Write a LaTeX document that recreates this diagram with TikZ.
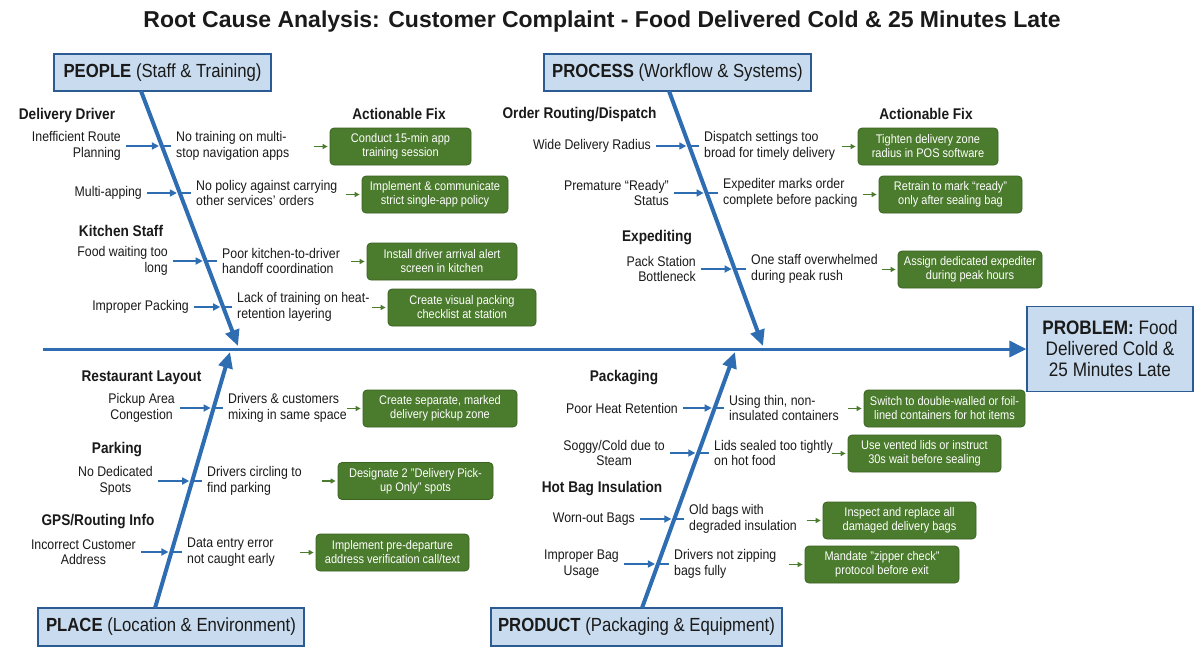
\documentclass[tikz,border=0pt]{standalone}
\usepackage{fontspec}
\setmainfont{Liberation Sans}[FakeStretch=0.88]
\newfontfamily\titlefont{Liberation Sans}
\usetikzlibrary{arrows.meta,intersections}
\definecolor{boneblue}{HTML}{2F6DB3}
\definecolor{catfill}{HTML}{C9DCEF}
\definecolor{catline}{HTML}{2C5B94}
\definecolor{fixgreen}{HTML}{4B7B2D}
\definecolor{fixdark}{HTML}{3A6321}
\definecolor{ink}{HTML}{1A1A1A}
\begin{document}
\begin{tikzpicture}[x=1pt,y=-1pt,
  txt/.style={font=\fontsize{14}{15.5}\selectfont, inner sep=0pt, text=ink},
  rtxt/.style={txt, align=right, anchor=east},
  ctxt/.style={txt, align=center, anchor=east},
  ltxt/.style={txt, align=left, anchor=west},
  lbl/.style={font=\bfseries\fontsize{15.5}{17}\selectfont, inner sep=0pt, text=ink},
  fixbox/.style={fill=fixgreen, draw=fixdark, line width=0.8pt, rounded corners=4pt, text=white,
     font=\fontsize{12.5}{14}\selectfont, align=center, minimum height=37pt, inner sep=0pt},
  catbox/.style={fill=catfill, draw=catline, line width=1.2pt, minimum height=37pt, inner sep=0pt,
     font=\fontsize{19}{21}\selectfont, text=ink},
  bone/.style={draw=boneblue, line width=4pt, -{Triangle[length=16pt,width=14pt]}},
  spine/.style={draw=boneblue, line width=3pt, -{Triangle[length=17pt,width=16pt]}},
  cause/.style={draw=boneblue, line width=1.6pt, -{Triangle[length=7pt,width=7pt]}},
  tickline/.style={draw=boneblue, line width=1.6pt},
  fixarrow/.style={draw=fixgreen, line width=1.2pt, -{Triangle[length=5pt,width=5pt]}}
]
\useasboundingbox[fill=white] (0,0) rectangle (1200,654);

% Title
\node[font=\titlefont\bfseries\fontsize{23}{26}\selectfont, anchor=base, inner sep=0pt, text=ink] (title) at (602,27)
  {Root Cause Analysis: Customer Complaint - Food Delivered Cold \& 25 Minutes Late};

% Category boxes and problem
\node[catbox, minimum width=217pt] (people) at (162.5,72.5) {\textbf{PEOPLE} (Staff \& Training)};
\node[catbox, minimum width=267pt] (process) at (677.5,72.5) {\textbf{PROCESS} (Workflow \& Systems)};
\node[catbox, minimum width=266pt, minimum height=38pt] (place) at (171,627) {\textbf{PLACE} (Location \& Environment)};
\node[catbox, minimum width=291pt, minimum height=38pt] (product) at (636.5,627) {\textbf{PRODUCT} (Packaging \& Equipment)};
\node[catbox, minimum width=166pt, minimum height=85pt, align=center, font=\fontsize{19.5}{21}\selectfont] (problem) at (1110,349)
  {\textbf{PROBLEM:} Food\\Delivered Cold \&\\25 Minutes Late};

% Spine and bones
\coordinate (spineStart) at (43,349);
\draw[spine] (spineStart) -- (problem.west);
\coordinate (pT) at (141,91);  \coordinate (pE) at (238,346);
\coordinate (qT) at (669,91);  \coordinate (qE) at (763,346);
\coordinate (lT) at (155,608); \coordinate (lE) at (230,352);
\coordinate (dT) at (642,608); \coordinate (dE) at (735,352);
\path[name path=pTb] (pT) -- (pE);
\path[name path=qTb] (qT) -- (qE);
\path[name path=lTb] (lT) -- (lE);
\path[name path=dTb] (dT) -- (dE);

% ---------------- PEOPLE ----------------
\node[lbl] (lDriver) at (67,115) {Delivery Driver};
\node[lbl] (lFix1) at (399,114) {Actionable Fix};
\node[lbl] (lKitchen) at (121,231) {Kitchen Staff};

\node[rtxt] (a1) at (121,146) {Inefficient Route\\Planning};
\node[ltxt] (b1) at (176,146) {No training on multi-\\stop navigation apps};
\node[fixbox, minimum width=141pt] (f1) at (400.5,146.5) {Conduct 15-min app\\training session};

\node[rtxt] (a2) at (142,193) {Multi-apping};
\node[ltxt] (b2) at (196,193) {No policy against carrying\\other services' orders};
\node[fixbox, minimum width=146pt] (f2) at (435,194.5) {Implement \& communicate\\strict single-app policy};

\node[rtxt] (a3) at (168,261) {Food waiting too\\long};
\node[ltxt] (b3) at (222,261) {Poor kitchen-to-driver\\handoff coordination};
\node[fixbox, minimum width=150pt] (f3) at (442,261.5) {Install driver arrival alert\\screen in kitchen};

\node[rtxt] (a4) at (189,307) {Improper Packing};
\node[ltxt] (b4) at (237,307) {Lack of training on heat-\\retention layering};
\node[fixbox, minimum width=148pt] (f4) at (462,307.5) {Create visual packing\\checklist at station};

% ---------------- PROCESS ----------------
\node[lbl] (lRouting) at (579.5,115) {Order Routing/Dispatch};
\node[lbl] (lFix2) at (926,114) {Actionable Fix};
\node[lbl] (lExped) at (657,238) {Expediting};

\node[rtxt] (a5) at (651,146) {Wide Delivery Radius};
\node[ltxt] (b5) at (704,146) {Dispatch settings too\\broad for timely delivery};
\node[fixbox, minimum width=140pt] (f5) at (928,146.5) {Tighten delivery zone\\radius in POS software};

\node[rtxt] (a6) at (669,193) {Premature “Ready”\\Status};
\node[ltxt] (b6) at (723,193) {Expediter marks order\\complete before packing};
\node[fixbox, minimum width=143pt] (f6) at (950.5,194.5) {Retrain to mark “ready”\\only after sealing bag};

\node[rtxt] (a7) at (696,269) {Pack Station\\Bottleneck};
\node[ltxt] (b7) at (751,269) {One staff overwhelmed\\during peak rush};
\node[fixbox, minimum width=144pt] (f7) at (970,269.5) {Assign dedicated expediter\\during peak hours};

% ---------------- PLACE ----------------
\node[lbl] (lLayout) at (141.5,378) {Restaurant Layout};
\node[lbl] (lParking) at (117,450) {Parking};
\node[lbl] (lGps) at (98,522) {GPS/Routing Info};

\node[ctxt] (a8) at (175,408) {Pickup Area\\Congestion};
\node[ltxt] (b8) at (228,408) {Drivers \& customers\\mixing in same space};
\node[fixbox, minimum width=154pt] (f8) at (440,408.5) {Create separate, marked\\delivery pickup zone};

\node[ctxt] (a9) at (153,481) {No Dedicated\\Spots};
\node[ltxt] (b9) at (207,481) {Drivers circling to\\find parking};
\node[fixbox, minimum width=155pt] (f9) at (415.5,481) {Designate 2 "Delivery Pick-\\up Only" spots};

\node[ctxt] (a10) at (136,552) {Incorrect Customer\\Address};
\node[ltxt] (b10) at (187,552) {Data entry error\\not caught early};
\node[fixbox, minimum width=153pt] (f10) at (392.5,552.5) {Implement pre-departure\\address verification call/text};

% ---------------- PRODUCT ----------------
\node[lbl] (lPack) at (624,378) {Packaging};
\node[lbl] (lHotbag) at (602,489) {Hot Bag Insulation};

\node[rtxt] (a11) at (678,408) {Poor Heat Retention};
\node[ltxt] (b11) at (729,408) {Using thin, non-\\insulated containers};
\node[fixbox, minimum width=161pt] (f11) at (944.5,408.5) {Switch to double-walled or foil-\\lined containers for hot items};

\node[ctxt] (a12) at (665,453) {Soggy/Cold due to\\Steam};
\node[ltxt] (b12) at (714,453) {Lids sealed too tightly\\on hot food};
\node[fixbox, minimum width=153pt] (f12) at (924.5,453.5) {Use vented lids or instruct\\30s wait before sealing};

\node[rtxt] (a13) at (635,519) {Worn-out Bags};
\node[ltxt] (b13) at (689,519) {Old bags with\\degraded insulation};
\node[fixbox, minimum width=153pt] (f13) at (899.5,520.5) {Inspect and replace all\\damaged delivery bags};

\node[ctxt] (a14) at (619,564) {Improper Bag\\Usage};
\node[ltxt] (b14) at (674,564) {Drivers not zipping\\bags fully};
\node[fixbox, minimum width=154pt] (f14) at (882,564.5) {Mandate "zipper check"\\protocol before exit};

% ---------------- cause connectors ----------------
\foreach \i/\bn in {1/pTb,2/pTb,3/pTb,4/pTb,5/qTb,6/qTb,7/qTb,
                      8/lTb,9/lTb,10/lTb,11/dTb,12/dTb,13/dTb,14/dTb}{
  \path[name path=hline] ([xshift=-30pt]a\i.east) -- ([xshift=30pt]b\i.west);
  \path[name intersections={of=hline and \bn, by=x\i}];
  \draw[cause] ([xshift=5pt]a\i.east) -- ([xshift=-3pt]x\i);
  \draw[tickline] (x\i) -- ([xshift=-5pt]b\i.west);
  \draw[fixarrow] ([xshift=-16pt]f\i.west) -- ([xshift=-2pt]f\i.west);
}

% bones
\draw[bone] (pT) -- (pE);
\draw[bone] (qT) -- (qE);
\draw[bone] (lT) -- (lE);
\draw[bone] (dT) -- (dE);
\end{tikzpicture}
\end{document}
